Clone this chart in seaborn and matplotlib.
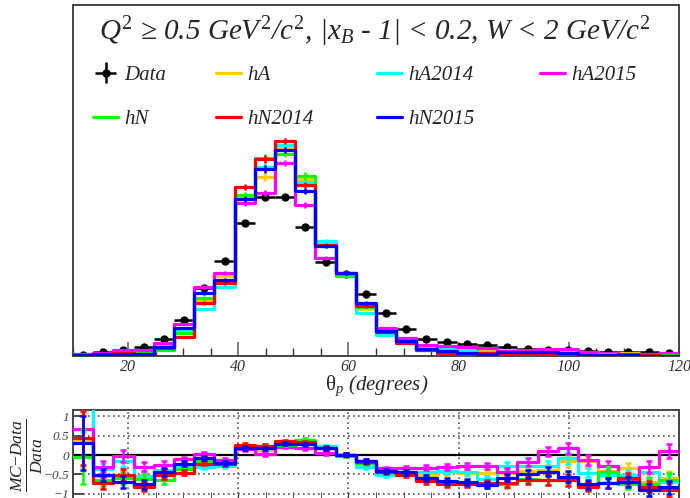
import numpy as np
import pandas as pd
import matplotlib
matplotlib.use("Agg")
import matplotlib.pyplot as plt
import seaborn as sns
from matplotlib.ticker import MultipleLocator, FixedLocator
from matplotlib.lines import Line2D

# ---------------- data (arbitrary units) ----------------
x_min, x_max, n_bins = 10, 120, 30

data_counts = [1, 4, 6, 9, 17, 36, 68, 95, 133, 159, 159, 129, 94, 82, 62,
               43, 27, 17, 14, 12, 11, 9, 7.5, 6.5, 5.8, 5, 4.3, 4, 3.6, 3]
data_err = [1, 1, 1, 1, 1.2, 1.5, 2, 2, 2.5, 2.5, 2.5, 2.5, 2, 2, 2,
            1.5, 1.2, 1, 1, 1, 1, 1, 1, 1, 3, 1, 1, 1, 1, 1]

hA = [1.4, 1.8, 2.6, 3.6, 8.5, 24, 56, 80, 158, 179, 208, 177, 113, 83, 47,
      24, 15, 8.2, 7.7, 6.4, 5.8, 4.8, 4.4, 4.0, 4.9, 4.2, 2.5, 2.7, 1.1, 1.2]
hA2014 = [2.3, 2.6, 5.0, 4.0, 10.2, 25, 47, 69, 157, 189, 211, 174, 115, 83, 43,
          21, 14, 9.4, 8.1, 6.6, 4.2, 6.5, 5.3, 4.7, 5.3, 2.7, 2.1, 1.9, 2.0, 0.9]
hA2015 = [1.67, 2.8, 5.8, 6.3, 12.6, 32, 69, 83, 153, 163, 193, 151, 98, 82, 52,
          28, 18, 11.4, 9.7, 8.6, 7.9, 5.1, 6.2, 7.1, 6.8, 4.35, 3.1, 1.3, 2.5, 3.3]
hN = [0.96, 1.4, 2.4, 3.4, 6.0, 23, 58, 74, 161, 198, 202, 180, 110, 80, 49,
      24, 15, 6.5, 3.8, 3.2, 2.4, 2.2, 2.9, 2.3, 2.3, 1.1, 2.4, 1.0, 0.9, 1.05]
hN2014 = [1.45, 1.1, 2.9, 1.6, 8.2, 19.5, 53, 73, 169, 197, 215, 171, 111, 83, 50,
          24, 13, 5.6, 3.4, 2.9, 3.0, 2.4, 2.6, 2.3, 2.0, 0.9, 1.2, 1.6, 0.65, 0.3]
hN2015 = [1.3, 1.9, 1.8, 2.2, 9.4, 28, 63, 76, 157, 187, 206, 165, 110, 83, 53,
          25, 15, 6.8, 4.6, 3.5, 2.4, 3.7, 3.75, 3.7, 2.55, 1.2, 1.16, 1.16, 0.36, 0.48]

mc_rel_err = [0.5, 0.12, 0.1, 0.08, 0.06, 0.04, 0.03, 0.025, 0.02, 0.02, 0.015, 0.02,
              0.02, 0.025, 0.03, 0.04, 0.05, 0.06, 0.07, 0.07, 0.08, 0.08, 0.09, 0.1,
              0.1, 0.1, 0.12, 0.12, 0.13, 0.15]
ratio_err = [0.7, 0.15, 0.15, 0.12, 0.1, 0.06, 0.05, 0.05, 0.04, 0.04, 0.04, 0.04,
             0.04, 0.04, 0.05, 0.05, 0.06, 0.07, 0.07, 0.08, 0.08, 0.09, 0.1, 0.12,
             0.15, 0.12, 0.13, 0.13, 0.15, 0.18]

series_names = ["hA", "hA2014", "hA2015", "hN", "hN2014", "hN2015"]
series_values = [hA, hA2014, hA2015, hN, hN2014, hN2015]
series_colors = ["#ffcc00", "#00ffff", "#ff00ff", "#00ff00", "#ff0000", "#0000ff"]

x_ticks_major = [20, 40, 60, 80, 100, 120]
ratio_ticks = [-1, -0.5, 0, 0.5, 1]
ratio_tick_labels = ["\u22121", "\u22120.5", "0", "0.5", "1"]

# ---------------- style ----------------
sns.set_style("ticks")
plt.rcParams["font.family"] = ["Liberation Serif", "DejaVu Serif"]
plt.rcParams["mathtext.fontset"] = "custom"
plt.rcParams["mathtext.rm"] = "Liberation Serif"
plt.rcParams["mathtext.it"] = "Liberation Serif:italic"
plt.rcParams["mathtext.bf"] = "Liberation Serif:bold"
plt.rcParams["mathtext.default"] = "it"

W, H = 690, 498
fig = plt.figure(figsize=(W / 100, H / 100), dpi=100)

def rect(l, t, r, b):
    return [l / W, 1 - b / H, (r - l) / W, (b - t) / H]

ax = fig.add_axes(rect(73, 5, 679, 356))
ax2 = fig.add_axes(rect(73, 410, 679, 499.5))

edges = np.linspace(x_min, x_max, n_bins + 1)
centers = 0.5 * (edges[:-1] + edges[1:])
half_w = 0.5 * (edges[1] - edges[0])
data_arr = np.array(data_counts, dtype=float)

# ---------------- top panel ----------------
cont = ax.errorbar(centers, data_arr, xerr=half_w, yerr=data_err, fmt="o",
                   color="black", ms=5, elinewidth=1.8, capsize=0, zorder=2)

handles = {}
for name, vals, col in zip(series_names, series_values, series_colors):
    vals = np.array(vals, dtype=float)
    df = pd.DataFrame({"theta": centers, "w": vals})
    sns.histplot(data=df, x="theta", weights="w", bins=list(edges), element="step",
                 fill=False, color=col, linewidth=2.3, ax=ax, zorder=3)
    ax.errorbar(centers, vals, yerr=vals * np.array(mc_rel_err), fmt="none",
                ecolor=col, elinewidth=1.8, capsize=0, zorder=3)
    handles[name] = Line2D([], [], color=col, lw=2.3)

ax.set_xlim(x_min, x_max)
ax.set_ylim(0, 351)
ax.set_ylabel("")
ax.set_xlabel("")
ax.set_yticks([])
ax.xaxis.set_major_locator(FixedLocator(x_ticks_major))
ax.xaxis.set_minor_locator(MultipleLocator(5))
ax.tick_params(axis="x", which="major", direction="in", length=10, width=1.2,
               color="#666666", labelsize=11.5, labelcolor="#333333", pad=2)
ax.tick_params(axis="x", which="minor", direction="in", length=6, width=1.0,
               color="#333333")
for lab in ax.get_xticklabels():
    lab.set_fontstyle("italic")
for sp in ax.spines.values():
    sp.set_visible(True)
    sp.set_color("#444444")
    sp.set_linewidth(1.4)

fig.text(375 / W, 1 - 32 / H,
         "$Q^{\\mathit{2}}$ \u2265 0.5 Ge$V^{\\mathit{2}}$/$c^{\\mathit{2}}$, |$x_{B}$ - 1| < 0.2, W < 2 GeV/$c^{\\mathit{2}}$",
         ha="center", va="center", fontsize=21, fontstyle="italic")

fig.text(377 / W, 1 - 386 / H, r"$\mathrm{\theta}_{p}$ (degrees)", ha="center",
         va="center", fontsize=15, fontstyle="italic")

# legend: four columns
prop = {"family": "Liberation Serif", "style": "italic", "size": 15}
cols = [
    ([cont, handles["hN"]], ["Data", "hN"], 93),
    ([handles["hA"], handles["hN2014"]], ["hA", "hN2014"], 216),
    ([handles["hA2014"], handles["hN2015"]], ["hA2014", "hN2015"], 377),
    ([handles["hA2015"]], ["hA2015"], 540),
]
for i, (hs, ls, xpx) in enumerate(cols):
    leg = ax.legend(hs, ls, loc="upper left",
                    bbox_to_anchor=((xpx - 73) / 606, (356 - 65.5) / 351),
                    frameon=False, prop=prop, handlelength=1.2,
                    handletextpad=0.3, labelspacing=1.16, borderpad=0,
                    borderaxespad=0)
    if i < len(cols) - 1:
        ax.add_artist(leg)

# ---------------- ratio panel ----------------
for name, vals, col in zip(series_names, series_values, series_colors):
    vals = np.array(vals, dtype=float)
    ratio = (vals - data_arr) / data_arr
    df = pd.DataFrame({"theta": centers, "r": ratio})
    sns.histplot(data=df, x="theta", weights="r", bins=list(edges), element="step",
                 fill=False, color=col, linewidth=2.3, ax=ax2, zorder=3)
    ax2.errorbar(centers, ratio, yerr=ratio_err, fmt="none", ecolor=col,
                 elinewidth=1.8, capsize=2.5, capthick=1.8, zorder=3)

ax2.axhline(0, color="black", lw=1.6, zorder=2)
ax2.set_xlim(x_min, x_max)
ax2.set_ylim(-1.151, 1.164)
ax2.set_xlabel("")
ax2.set_ylabel("")
ax2.xaxis.set_major_locator(FixedLocator(x_ticks_major))
ax2.xaxis.set_minor_locator(MultipleLocator(5))
ax2.set_xticklabels([])
ax2.set_yticks(ratio_ticks)
ax2.set_yticklabels(ratio_tick_labels)
ax2.grid(True, which="major", linestyle=(0, (1, 2)), color="#555555", lw=1.2)
ax2.tick_params(axis="x", which="both", direction="in", length=6, color="#333333")
ax2.tick_params(axis="y", which="major", direction="in", length=8, width=1.2,
                color="#333333", labelsize=9.5, labelcolor="#444444", pad=3)
for lab in ax2.get_yticklabels():
    lab.set_fontstyle("italic")
for sp in ax2.spines.values():
    sp.set_visible(True)
    sp.set_color("#444444")
    sp.set_linewidth(1.4)

fig.text(27 / W, 1 - 455 / H, r"$\frac{MC{-}Data}{Data}$", rotation=90,
         ha="center", va="center", fontsize=18)

fig.savefig("out.png", dpi=100)
